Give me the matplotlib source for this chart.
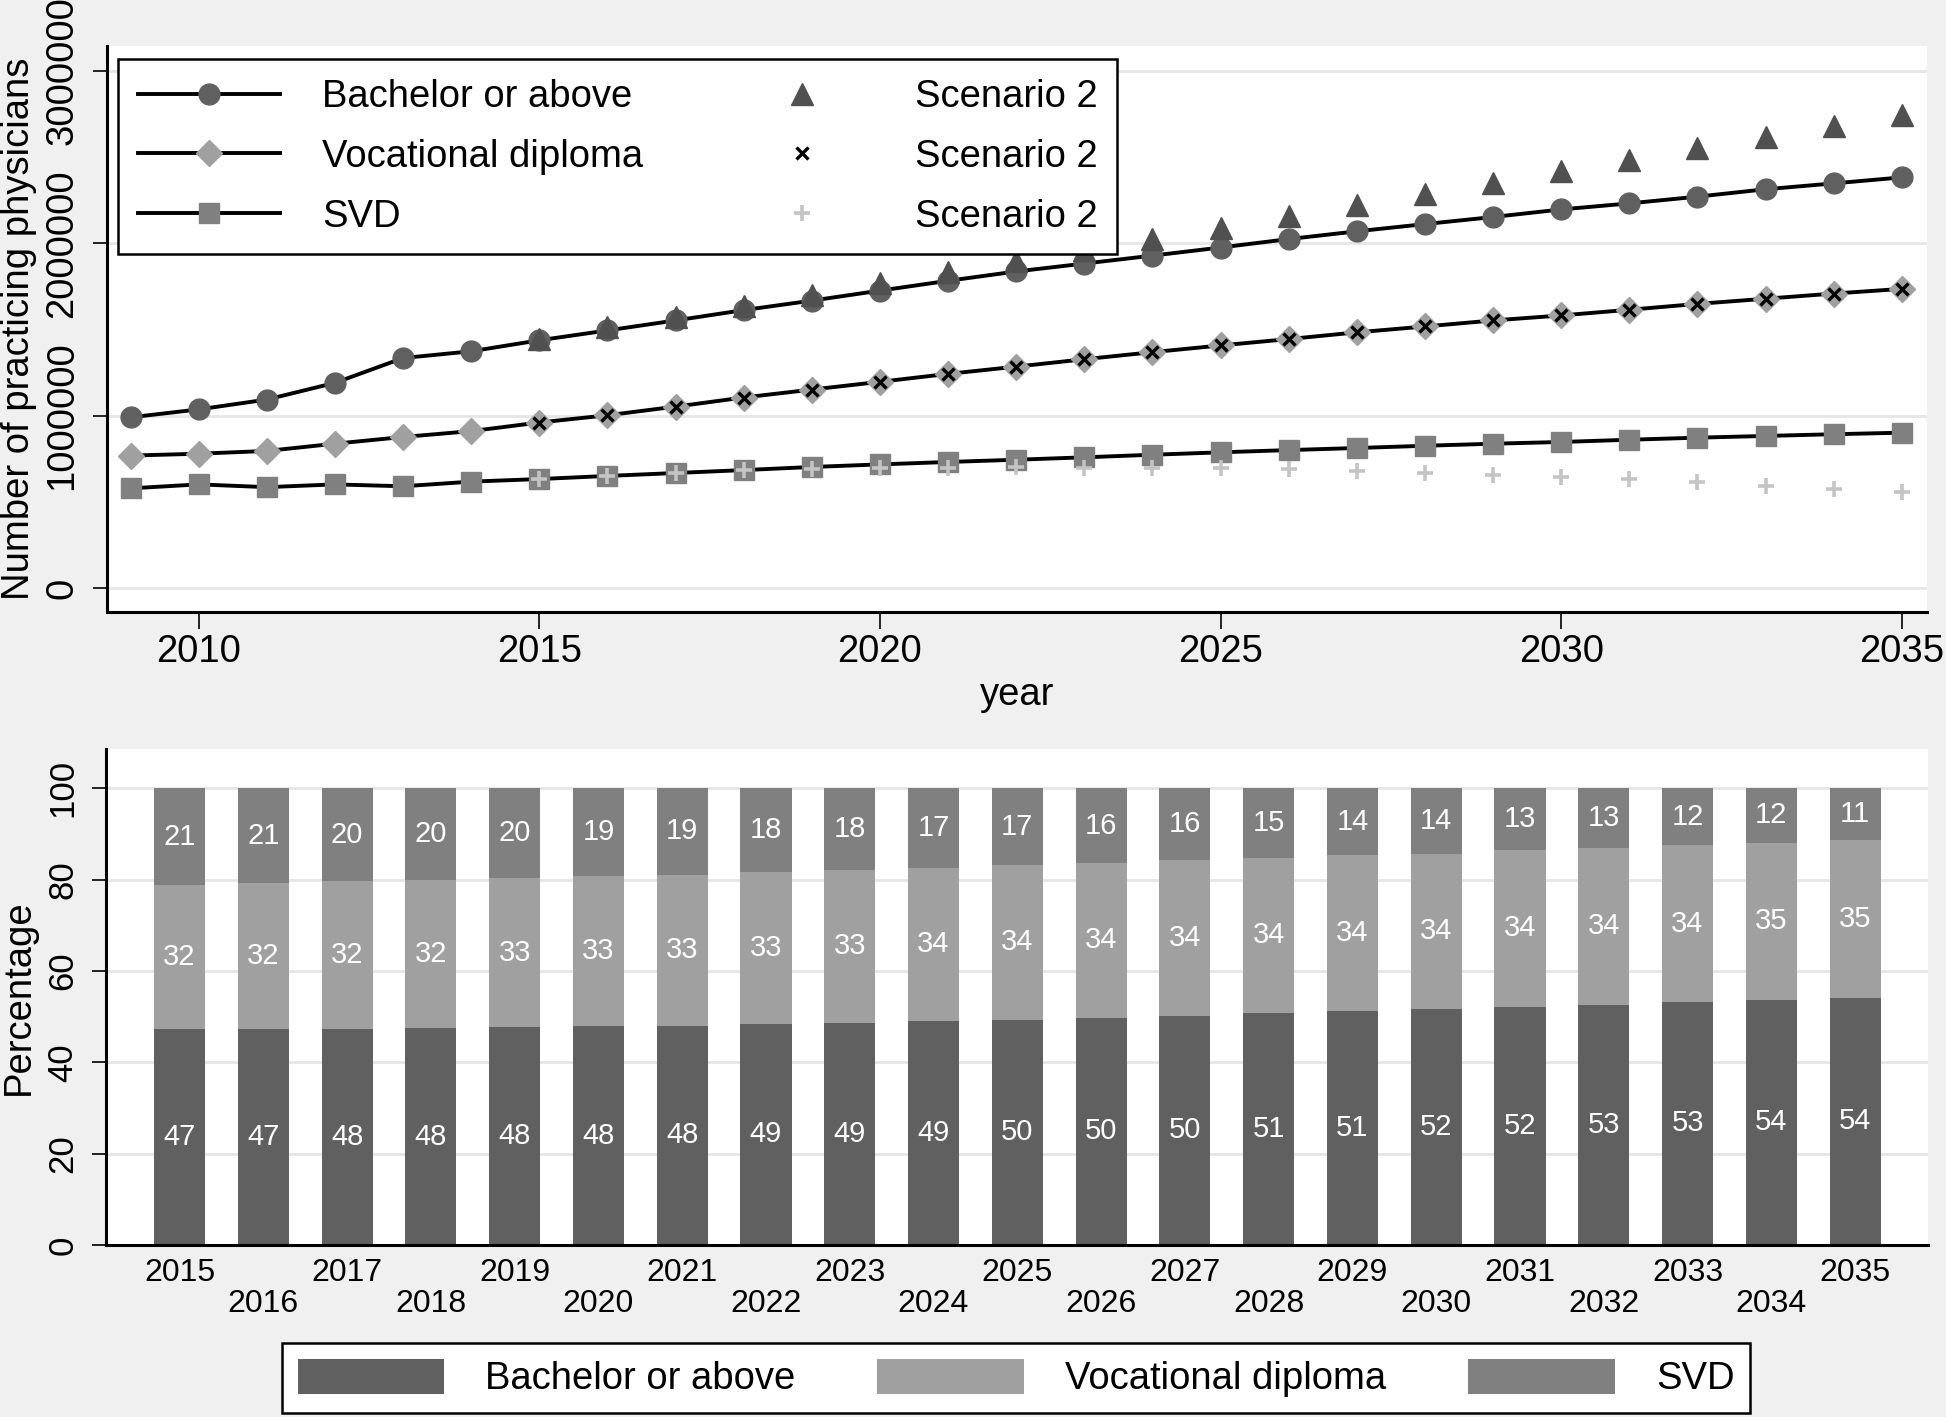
#!/usr/bin/env python3
# -*- coding: utf-8 -*-
"""Practicing physicians by education level, 2009-2035, plus shares by year."""

import numpy as np
from matplotlib import pyplot as plt
from matplotlib.patches import Patch

plt.rcParams['font.family'] = ['Liberation Sans', 'DejaVu Sans']

# ---- top panel: number of practicing physicians ----
years = list(range(2009, 2036))
bachelor = [990000, 1036000, 1093000, 1190000, 1334000, 1373000, 1437000,
            1494000, 1552000, 1612000, 1667000, 1725000, 1782000, 1836000,
            1882000, 1928000, 1975000, 2024000, 2069000, 2111000, 2152000,
            2196000, 2231000, 2270000, 2313000, 2347000, 2382000]
vocational = [768000, 779000, 795000, 837000, 876000, 910000, 960000,
              1002000, 1052000, 1105000, 1151000, 1196000, 1242000, 1284000,
              1327000, 1368000, 1407000, 1444000, 1483000, 1517000, 1552000,
              1581000, 1614000, 1648000, 1678000, 1708000, 1735000]
svd = [578000, 601000, 585000, 601000, 590000, 617000, 632000, 650000,
       667000, 684000, 702000, 717000, 731000, 744000, 758000, 773000,
       787000, 800000, 812000, 825000, 837000, 847000, 860000, 872000,
       882000, 892000, 901000]

scen_years = list(range(2015, 2036))
bachelor_s2 = [1446000, 1514000, 1572000, 1637000, 1702000, 1769000, 1832000,
               1896000, 1962000, 2025000, 2089000, 2156000, 2219000, 2287000,
               2352000, 2418000, 2485000, 2550000, 2616000, 2678000, 2744000]
vocational_s2 = [960000, 1002000, 1052000, 1105000, 1151000, 1196000, 1242000,
                 1284000, 1327000, 1368000, 1407000, 1444000, 1483000,
                 1517000, 1552000, 1581000, 1614000, 1648000, 1678000,
                 1708000, 1735000]
svd_s2 = [632000, 650000, 667000, 684000, 690000, 698000, 698000, 700000,
          698000, 694000, 694000, 688000, 679000, 669000, 657000, 646000,
          630000, 613000, 592000, 573000, 557000]

y_ticks = [0, 1000000, 2000000, 3000000]
x_ticks = [2010, 2015, 2020, 2025, 2030, 2035]

# ---- bottom panel: percentage shares (scenario 2) ----
bar_years = list(range(2015, 2036))
bachelor_pct = [47.3, 47.3, 47.3, 47.45, 47.7, 47.9, 48.05, 48.4, 48.7, 49.0,
                49.35, 49.8, 50.2, 50.8, 51.2, 51.7, 52.1, 52.6, 53.2, 53.7,
                54.1]
vocational_pct = [31.5, 31.9, 32.3, 32.45, 32.6, 32.8, 33.05, 33.2, 33.3,
                  33.6, 33.75, 33.8, 34.0, 34.0, 34.1, 34.0, 34.4, 34.4, 34.3,
                  34.4, 34.6]
svd_pct = [21.2, 20.8, 20.4, 20.1, 19.7, 19.3, 18.9, 18.4, 18.0, 17.4, 16.9,
           16.4, 15.8, 15.2, 14.7, 14.3, 13.5, 13.0, 12.5, 11.9, 11.3]
bachelor_lbl = [47, 47, 48, 48, 48, 48, 48, 49, 49, 49, 50, 50, 50, 51, 51,
                52, 52, 53, 53, 54, 54]
vocational_lbl = [32, 32, 32, 32, 33, 33, 33, 33, 33, 34, 34, 34, 34, 34, 34,
                  34, 34, 34, 34, 35, 35]
svd_lbl = [21, 21, 20, 20, 20, 19, 19, 18, 18, 17, 17, 16, 16, 15, 14, 14,
           13, 13, 12, 12, 11]
pct_ticks = [0, 20, 40, 60, 80, 100]

W, H = 1946, 1417
BG = '#f0f0f0'
GRID = '#e6e6e6'
C_BACH = '#606060'
C_VOC = '#a0a0a0'
C_SVD = '#808080'


def style_axes(ax):
    '''Stata-like axes: left and bottom spines only, light grid'''
    for side in ('top', 'right'):
        ax.spines[side].set_visible(False)
    for side in ('left', 'bottom'):
        ax.spines[side].set_linewidth(2.2)
        ax.spines[side].set_color('black')
    ax.set_axisbelow(True)
    ax.yaxis.grid(True, color=GRID, linewidth=2.0)
    ax.xaxis.grid(False)


def top_panel(fig):
    '''Line chart of physician numbers'''
    ax = fig.add_axes([106.7 / W, 1 - 611.7 / H,
                       (1927 - 106.7) / W, (611.7 - 46) / H])
    style_axes(ax)

    l1, = ax.plot(years, bachelor, color='black', lw=2.8, marker='o', ms=15,
                  mfc=C_BACH, mec=C_BACH, zorder=3)
    l2, = ax.plot(years, vocational, color='black', lw=2.8, marker='D',
                  ms=13.2, mfc=C_VOC, mec=C_VOC, zorder=3)
    l3, = ax.plot(years, svd, color='black', lw=2.8, marker='s', ms=14.8,
                  mfc=C_SVD, mec=C_SVD, zorder=3)
    s1, = ax.plot(scen_years, bachelor_s2, ls='none', marker='^', ms=16,
                  mfc='#505050', mec='#505050', zorder=4)
    s2, = ax.plot(scen_years, vocational_s2, ls='none', marker='x', ms=9,
                  mew=2.4, color='black', zorder=4)
    s3, = ax.plot(scen_years, svd_s2, ls='none', marker='+', ms=12,
                  mew=2.6, color='#c4c4c4', zorder=4)

    ax.set_xlim(2008.65, 2035.37)
    ax.set_ylim(-137500, 3144000)
    ax.set_xticks(x_ticks)
    ax.set_xticklabels([str(v) for v in x_ticks])
    ax.set_yticks(y_ticks)
    ax.set_yticklabels([str(v) for v in y_ticks])
    ax.tick_params(axis='x', direction='out', length=12, width=1.2,
                   labelsize=27.5, pad=4)
    ax.tick_params(axis='y', direction='out', length=10.4, width=1.2,
                   labelsize=27.5, pad=8.6, labelrotation=90)
    for lab in ax.get_yticklabels():
        lab.set_verticalalignment('center')

    ax.set_xlabel('year', fontsize=27.5)
    ax.xaxis.set_label_coords(0.5, -0.115)
    ax.set_ylabel('Number of practicing physicians', fontsize=27.5)
    ax.yaxis.set_label_coords(-0.0383, 0.5)

    leg = ax.legend(
        handles=[l1, l2, l3, s1, s2, s3],
        labels=['Bachelor or above', 'Vocational diploma', 'SVD',
                'Scenario 2', 'Scenario 2', 'Scenario 2'],
        ncol=2, loc='upper left', bbox_to_anchor=(0.0062, 0.9765),
        borderaxespad=0, fontsize=27.5, handlelength=3.72, handletextpad=1.1,
        columnspacing=2.3, labelspacing=0.62, borderpad=0.52,
        fancybox=False, framealpha=1, edgecolor='black', numpoints=1
    )
    leg.get_frame().set_linewidth(1.8)
    leg.set_zorder(10)


def bottom_panel(fig):
    '''Stacked percentage bars'''
    ax = fig.add_axes([105.8 / W, 1 - 1245 / H,
                       (1928 - 105.8) / W, (1245 - 748.7) / H])
    style_axes(ax)

    pos = np.arange(len(bar_years))
    b = np.array(bachelor_pct)
    v = np.array(vocational_pct)
    s = np.array(svd_pct)
    width = 0.61
    ax.bar(pos, b, width, color=C_BACH, label='Bachelor or above')
    ax.bar(pos, v, width, bottom=b, color=C_VOC, label='Vocational diploma')
    ax.bar(pos, s, width, bottom=b + v, color=C_SVD, label='SVD')

    for i in pos:
        ax.text(i, b[i] / 2, str(bachelor_lbl[i]), color='white',
                fontsize=21, ha='center', va='center')
        ax.text(i, b[i] + v[i] / 2, str(vocational_lbl[i]), color='white',
                fontsize=21, ha='center', va='center')
        ax.text(i, b[i] + v[i] + s[i] / 2, str(svd_lbl[i]), color='white',
                fontsize=21, ha='center', va='center')

    ax.set_xlim(-0.88, 20.87)
    ax.set_ylim(0, 108.65)
    ax.set_yticks(pct_ticks)
    ax.set_yticklabels([str(v) for v in pct_ticks])
    ax.tick_params(axis='y', direction='out', length=10.4, width=1.2,
                   labelsize=25, pad=8.6, labelrotation=90)
    for lab in ax.get_yticklabels():
        lab.set_verticalalignment('center')

    # alternate year labels on two rows
    ax.set_xticks(pos[::2])
    ax.set_xticklabels([str(y) for y in bar_years[::2]])
    ax.set_xticks(pos[1::2], minor=True)
    ax.set_xticklabels([str(y) for y in bar_years[1::2]], minor=True)
    ax.tick_params(axis='x', which='major', length=0, labelsize=23, pad=9.5)
    ax.tick_params(axis='x', which='minor', length=0, labelsize=23, pad=32)

    ax.set_ylabel('Percentage', fontsize=27.5)
    ax.yaxis.set_label_coords(-0.0378, 0.5)

    handles = [Patch(facecolor=C_BACH), Patch(facecolor=C_VOC),
               Patch(facecolor=C_SVD)]
    leg = fig.legend(
        handles=handles,
        labels=['Bachelor or above', 'Vocational diploma', 'SVD'],
        ncol=3, loc='center', bbox_to_anchor=(1016 / W, 1 - 1378 / H),
        fontsize=27.5, handlelength=3.83, handleheight=1.05,
        handletextpad=1.08, columnspacing=2.15, borderpad=0.42,
        fancybox=False, framealpha=1, edgecolor='black'
    )
    leg.get_frame().set_linewidth(1.8)


def main():
    '''Launch main steps'''
    fig = plt.figure(figsize=(W / 100, H / 100), dpi=100, facecolor=BG)
    top_panel(fig)
    bottom_panel(fig)
    fig.savefig('out.png', dpi=100, facecolor=BG)


if __name__ == "__main__":
    main()
